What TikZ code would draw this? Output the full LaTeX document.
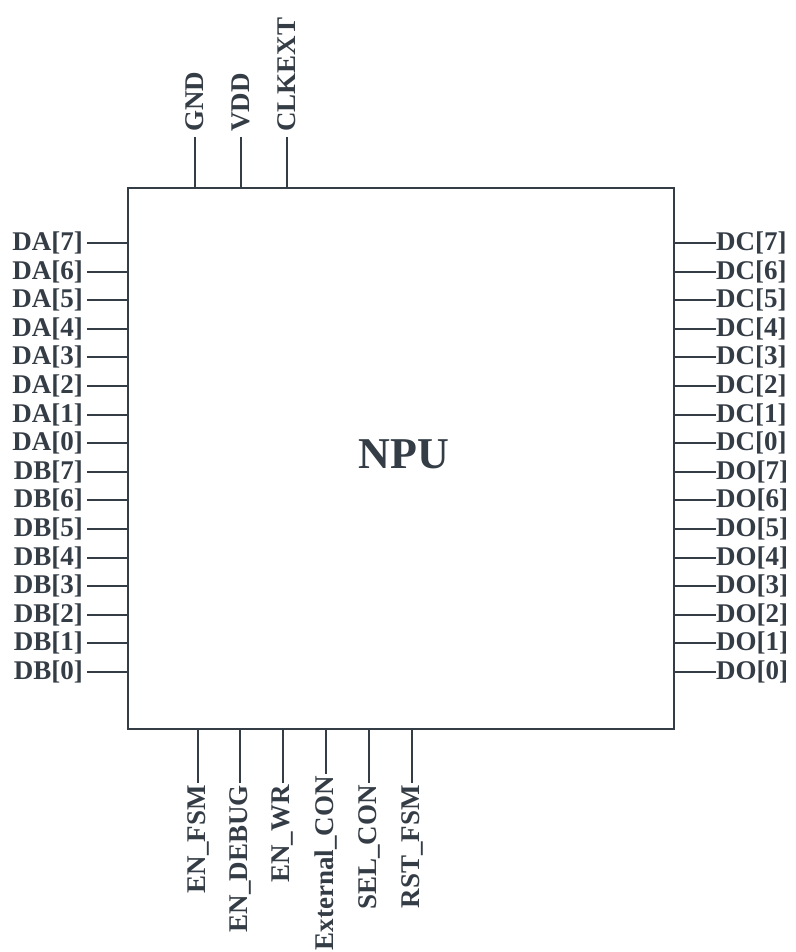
\documentclass[tikz,border=0pt]{standalone}
\usepackage{fontspec}
\setmainfont{Liberation Serif}
\definecolor{ink}{RGB}{52,60,69}
\begin{document}
\begin{tikzpicture}[x=1pt,y=-1pt,
  pinlab/.style={inner sep=0pt, text=ink, font=\fontsize{27}{29}\selectfont\bfseries},
  pinline/.style={draw=ink, line width=2pt},
  chipbox/.style={draw=ink, line width=2.6pt, minimum width=546pt, minimum height=541pt, inner sep=0pt}]
\useasboundingbox (0,0) rectangle (795,952);
\node[chipbox] (chip) at (401,458.5) {};
\node[text=ink, inner sep=0pt, font=\fontsize{44}{48}\selectfont\bfseries] (npu) at (404,454) {NPU};
% left pins
\foreach \n [count=\i from 0] in {DA[7],DA[6],DA[5],DA[4],DA[3],DA[2],DA[1],DA[0],DB[7],DB[6],DB[5],DB[4],DB[3],DB[2],DB[1],DB[0]} {
  \pgfmathsetmacro{\yy}{round(243+28.6*\i)}
  \node[pinlab, anchor=east] (L\i) at (83,\yy) {\n};
  \draw[pinline] ([xshift=4pt]L\i.east) -- (L\i.east -| chip.west);
}
% right pins
\foreach \n [count=\i from 0] in {DC[7],DC[6],DC[5],DC[4],DC[3],DC[2],DC[1],DC[0],DO[7],DO[6],DO[5],DO[4],DO[3],DO[2],DO[1],DO[0]} {
  \pgfmathsetmacro{\yy}{round(243+28.6*\i)}
  \node[pinlab, anchor=west] (R\i) at (716,\yy) {\n};
  \draw[pinline] (R\i.west) -- (R\i.west -| chip.east);
}
% top pins
\foreach \n/\x [count=\i] in {GND/195,VDD/241,CLKEXT/287} {
  \node[pinlab, rotate=90, anchor=west] (T\i) at (\x,132) {\n};
  \draw[pinline] ([yshift=-5pt]T\i.west) -- (T\i.west |- chip.north);
}
% bottom pins
\foreach \n/\x/\yb [count=\i] in {EN\_FSM/198/785,EN\_DEBUG/240/785,EN\_WR/283/785,External\_CON/326/776,SEL\_CON/369/785,RST\_FSM/412/785} {
  \node[pinlab, rotate=90, anchor=east] (B\i) at (\x,\yb) {\n};
  \draw[pinline] ([yshift=2pt]B\i.east) -- (B\i.east |- chip.south);
}
\end{tikzpicture}
\end{document}
